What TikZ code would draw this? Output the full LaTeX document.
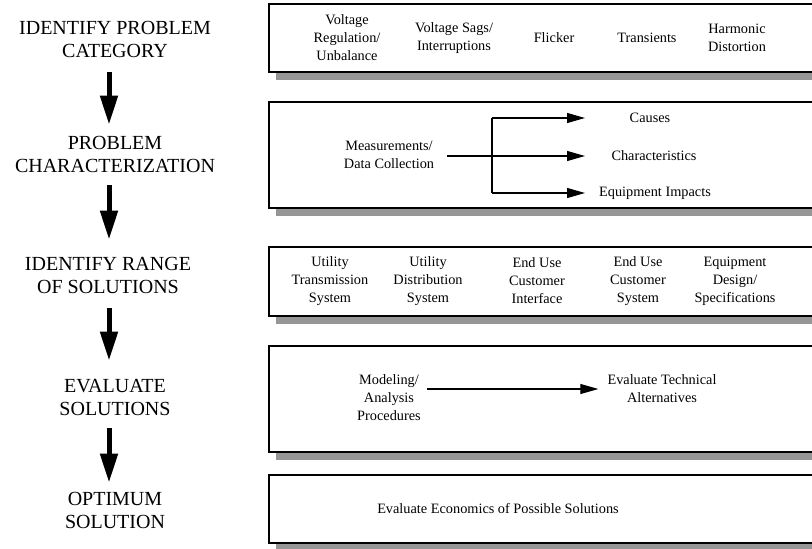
\documentclass[tikz,border=0pt]{standalone}
\usepackage{fontspec}
\setmainfont{Liberation Serif}
\newfontfamily\timesfont{Liberation Serif}
\usetikzlibrary{arrows.meta, positioning}
\definecolor{shadowgray}{RGB}{150,150,150}

\tikzset{
  stage/.style={font=\timesfont\fontsize{20}{23}\selectfont, align=center, inner sep=0pt},
  item/.style={font=\timesfont\fontsize{14.3}{18}\selectfont, align=center, inner sep=3pt},
  panel/.style={draw, line width=1.2pt, fill=white},
  bigarrow/.style={line width=5pt, -{Triangle[width=17pt,length=29pt]}},
  flow/.style={line width=1.1pt, -{Triangle[width=10pt,length=18pt]}},
}

\begin{document}
\begin{tikzpicture}[x=1pt,y=-1pt]
\useasboundingbox (0,0) rectangle (812,549);
\clip (0,0) rectangle (812,549);

% panels with their shadows
\fill[shadowgray] (276,12) rectangle (830,80);
\draw[panel] (269,4) rectangle (830,72);
\fill[shadowgray] (276,110) rectangle (830,216);
\draw[panel] (269,102) rectangle (830,208);
\fill[shadowgray] (276,255) rectangle (830,324);
\draw[panel] (269,247) rectangle (830,316);
\fill[shadowgray] (276,354) rectangle (830,460);
\draw[panel] (269,346) rectangle (830,452);
\fill[shadowgray] (276,483) rectangle (830,551);
\draw[panel] (269,475) rectangle (830,543);

% left column
\node[stage] (cat) at (115,39.5) {IDENTIFY PROBLEM\\CATEGORY};
\node[stage] (char) at (115,154) {PROBLEM\\CHARACTERIZATION};
\node[stage] (range) at (108,275) {IDENTIFY RANGE\\OF SOLUTIONS};
\node[stage] (eval) at (115,397) {EVALUATE\\SOLUTIONS};
\node[stage] (opt) at (115,510) {OPTIMUM\\SOLUTION};

\coordinate (spine) at (109,0);
\draw[bigarrow, shorten <=14pt, shorten >=11pt] (spine |- cat.south) -- (spine |- char.north);
\draw[bigarrow, shorten <=13pt, shorten >=17pt] (spine |- char.south) -- (spine |- range.north);
\draw[bigarrow, shorten <=15pt, shorten >=18pt] (spine |- range.south) -- (spine |- eval.north);
\draw[bigarrow, shorten <=13pt, shorten >=9pt] (spine |- eval.south) -- (spine |- opt.north);

% problem categories
\node[item] (vreg) at (347,38) {Voltage\\Regulation/\\Unbalance};
\node[item] (sags) at (454,38) {Voltage Sags/\\Interruptions};
\node[item] (flicker) at (554,38) {Flicker};
\node[item] (transients) at (647,38) {Transients};
\node[item] (harmonic) at (737,38) {Harmonic\\Distortion};

% characterization
\node[item] (meas) at (389,155) {Measurements/\\Data Collection};
\node[item] (causes) at (650,118) {Causes};
\node[item] (chars) at (654,156) {Characteristics};
\node[item] (impacts) at (655,193) {Equipment Impacts};
\coordinate (split) at (492,156);
\coordinate (tips) at (585,156);
\draw[line width=1.1pt] (split |- causes) -- (split |- impacts);
\draw[flow, shorten <=10pt] (meas.east |- tips) -- (tips);
\draw[flow] (split |- causes) -- (tips |- causes);
\draw[flow] (split |- impacts) -- (tips |- impacts);

% range of solutions
\node[item] (transmission) at (330,281) {Utility\\Transmission\\System};
\node[item] (distribution) at (428,281) {Utility\\Distribution\\System};
\node[item] (interface) at (537,281) {End Use\\Customer\\Interface};
\node[item] (custsys) at (638,281) {End Use\\Customer\\System};
\node[item] (design) at (735,281) {Equipment\\Design/\\Specifications};

% evaluation
\node[item] (model) at (389,398) {Modeling/\\Analysis\\Procedures};
\node[item] (techalt) at (662,389) {Evaluate Technical\\Alternatives};
\draw[flow, shorten <=3pt, shorten >=6pt] (model.east |- techalt) -- (techalt.west);

% optimum
\node[item] (econ) at (498,509) {Evaluate Economics of Possible Solutions};
\end{tikzpicture}
\end{document}
